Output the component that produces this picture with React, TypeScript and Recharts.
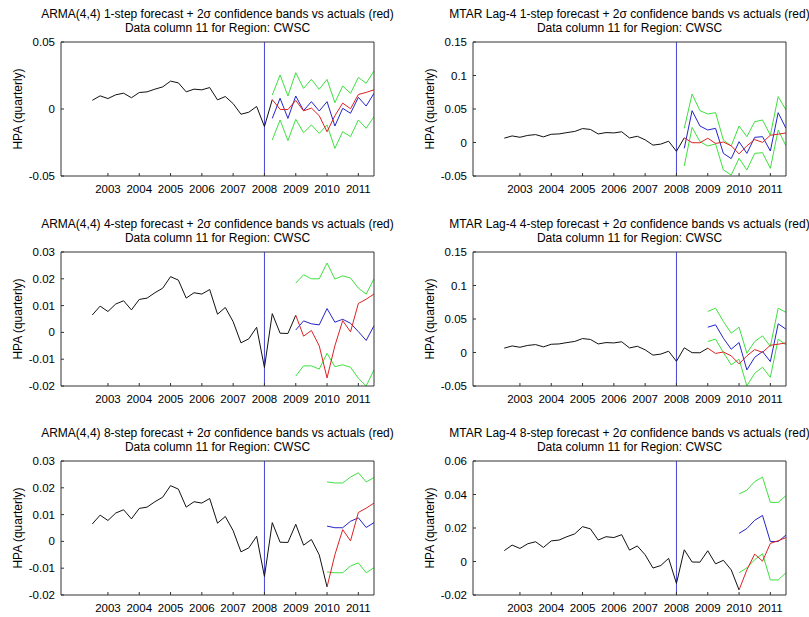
import { LineChart, Line, XAxis, YAxis, ReferenceLine } from "recharts";

const quarters = [
  2002.5, 2002.75, 2003, 2003.25, 2003.5, 2003.75, 2004, 2004.25, 2004.5, 2004.75,
  2005, 2005.25, 2005.5, 2005.75, 2006, 2006.25, 2006.5, 2006.75, 2007, 2007.25,
  2007.5, 2007.75, 2008, 2008.25, 2008.5, 2008.75, 2009, 2009.25, 2009.5, 2009.75,
  2010, 2010.25, 2010.5, 2010.75, 2011, 2011.25, 2011.5,
];

// actual HPA, quarterly
const actual = [
  0.0065, 0.0098, 0.0078, 0.0106, 0.0118, 0.0084, 0.0123, 0.0128, 0.0148, 0.0165,
  0.0208, 0.0195, 0.0128, 0.0148, 0.0143, 0.016, 0.0068, 0.0093, 0.004, -0.0039,
  -0.0024, 0.0019, -0.0131, 0.007, -0.0003, -0.0004, 0.0064, -0.0014, 0.0007, -0.005,
  -0.017, -0.005, 0.0044, 0.0002, 0.0108, 0.0124, 0.0143,
];

const yearTicks = [2003, 2004, 2005, 2006, 2007, 2008, 2009, 2010, 2011];

const ticksArma1 = [-0.05, 0, 0.05];
const ticksMtar = [-0.05, 0, 0.05, 0.1, 0.15];
const ticksArma48 = [-0.02, -0.01, 0, 0.01, 0.02, 0.03];
const ticksMtar8 = [-0.02, 0, 0.02, 0.04, 0.06];

const arma1Fc = [-0.007, 0.008, -0.007, 0.0097, -0.0012, 0.0055, -0.0015, 0.0055, -0.0127, 0.0005, -0.0032, 0.0087, 0.0022, 0.0117];
const arma1Up = [0.0104, 0.0254, 0.0097, 0.0271, 0.0154, 0.0221, 0.0147, 0.0221, 0.0047, 0.0172, 0.0117, 0.0236, 0.0192, 0.0284];
const arma1Lo = [-0.0231, -0.0082, -0.0236, -0.0077, -0.0177, -0.0119, -0.0182, -0.0119, -0.0294, -0.0169, -0.0206, -0.0082, -0.0144, -0.0057];

const mtar1Fc = [-0.0087, 0.0475, 0.0246, 0.0187, 0.0211, -0.0162, -0.024, 0.0012, -0.0162, 0.0077, 0.0087, -0.0127, 0.0445, 0.0211];
const mtar1Up = [0.0211, 0.0724, 0.0475, 0.0425, 0.0445, 0.0037, -0.0052, 0.0246, 0.0087, 0.0311, 0.0336, 0.011, 0.0686, 0.0485];
const mtar1Lo = [-0.035, 0.0226, 0.0012, -0.0052, -0.0022, -0.041, -0.0485, -0.0236, -0.041, -0.0162, -0.0152, -0.0386, 0.0187, -0.0052];

const arma4Fc = [0.0009, 0.0043, 0.0032, 0.0028, 0.0089, 0.0038, 0.0049, 0.0034, 0.0003, -0.003, 0.0025];
const arma4Up = [0.0184, 0.0215, 0.02, 0.02, 0.0259, 0.0199, 0.0211, 0.0203, 0.0165, 0.0143, 0.02];
const arma4Lo = [-0.0163, -0.0125, -0.0125, -0.0137, -0.0078, -0.0128, -0.0121, -0.013, -0.0171, -0.02, -0.014];

const mtar4Fc = [0.0378, 0.0413, 0.0213, 0.0049, 0.0149, -0.026, -0.0072, 0.0014, -0.0136, 0.0428, 0.0348];
const mtar4Up = [0.0613, 0.0662, 0.0463, 0.0288, 0.0378, -0.0011, 0.0164, 0.0248, 0.0089, 0.0662, 0.0598];
const mtar4Lo = [0.0164, 0.0199, -0.0001, -0.0185, -0.01, -0.0499, -0.031, -0.022, -0.037, 0.0199, 0.0114];

const arma8Fc = [0.0057, 0.0051, 0.0051, 0.0075, 0.0088, 0.0052, 0.007];
const arma8Up = [0.0222, 0.0218, 0.0218, 0.024, 0.0256, 0.0222, 0.0238];
const arma8Lo = [-0.0114, -0.0117, -0.0117, -0.0092, -0.008, -0.0117, -0.0098];

const mtar8Fc = [0.0168, 0.0197, 0.0246, 0.0275, 0.0119, 0.0119, 0.0158];
const mtar8Up = [0.0403, 0.0426, 0.0477, 0.0504, 0.0353, 0.0353, 0.0393];
const mtar8Lo = [-0.0067, -0.0038, 0.0011, 0.0046, -0.011, -0.011, -0.0067];

const FONT = '"Liberation Sans", Arial, Helvetica, sans-serif';
const PW = 313;
const PH = 134;
const FRAME = "#333";
const VLINE = "#4545d6";

const panels = [
  { title: "ARMA(4,4) 1-step forecast + 2σ confidence bands vs actuals (red)", start: 2008.25, fc: arma1Fc, up: arma1Up, lo: arma1Lo, domain: [-0.05, 0.05], ticks: ticksArma1, left: 61, top: 42 },
  { title: "MTAR Lag-4 1-step forecast + 2σ confidence bands vs actuals (red)", start: 2008.25, fc: mtar1Fc, up: mtar1Up, lo: mtar1Lo, domain: [-0.05, 0.15], ticks: ticksMtar, left: 473, top: 42 },
  { title: "ARMA(4,4) 4-step forecast + 2σ confidence bands vs actuals (red)", start: 2009, fc: arma4Fc, up: arma4Up, lo: arma4Lo, domain: [-0.02, 0.03], ticks: ticksArma48, left: 61, top: 252 },
  { title: "MTAR Lag-4 4-step forecast + 2σ confidence bands vs actuals (red)", start: 2009, fc: mtar4Fc, up: mtar4Up, lo: mtar4Lo, domain: [-0.05, 0.15], ticks: ticksMtar, left: 473, top: 252 },
  { title: "ARMA(4,4) 8-step forecast + 2σ confidence bands vs actuals (red)", start: 2010, fc: arma8Fc, up: arma8Up, lo: arma8Lo, domain: [-0.02, 0.03], ticks: ticksArma48, left: 61, top: 461 },
  { title: "MTAR Lag-4 8-step forecast + 2σ confidence bands vs actuals (red)", start: 2010, fc: mtar8Fc, up: mtar8Up, lo: mtar8Lo, domain: [-0.02, 0.06], ticks: ticksMtar8, left: 473, top: 461 },
];

const fmt = (v: number) => String(Number(v.toFixed(4)));

function buildRows(start: number, fc: number[], up: number[], lo: number[]) {
  const s = quarters.indexOf(start);
  return quarters.map((t, i) => ({
    t,
    hist: i <= s ? actual[i] : null,
    act: i >= s ? actual[i] : null,
    fc: i >= s ? fc[i - s] : null,
    up: i >= s ? up[i - s] : null,
    lo: i >= s ? lo[i - s] : null,
  }));
}

function Panel({ p }: { p: any }) {
  const rows = buildRows(p.start, p.fc, p.up, p.lo);
  const tickStyle = { fill: "#000", fontSize: 11.5, fontFamily: FONT };
  return (
    <>
      <div
        style={{
          position: "absolute",
          left: p.left + PW / 2 - 260,
          top: p.top - 35,
          width: 520,
          textAlign: "center",
          fontFamily: FONT,
          fontSize: 12,
          lineHeight: "14px",
          whiteSpace: "nowrap",
          color: "#000",
        }}
      >
        <div>{p.title}</div>
        <div>Data column 11 for Region: CWSC</div>
      </div>
      <div
        style={{
          position: "absolute",
          left: p.left - 43,
          top: p.top + PH / 2,
          transform: "translate(-50%, -50%) rotate(-90deg)",
          fontFamily: FONT,
          fontSize: 12,
          whiteSpace: "nowrap",
          color: "#000",
        }}
      >
        HPA (quarterly)
      </div>
      <div style={{ position: "absolute", left: p.left - 60, top: p.top - 5 }}>
        <LineChart width={60 + PW + 5} height={5 + PH + 30} data={rows} margin={{ top: 5, right: 5, bottom: 0, left: 0 }}>
          <XAxis dataKey="t" type="number" domain={[2001.5, 2011.5]} ticks={yearTicks} allowDataOverflow interval={0}
            tickSize={-3} tickMargin={12} height={30} stroke={FRAME} tick={tickStyle} />
          <XAxis xAxisId="top" orientation="top" mirror dataKey="t" type="number" domain={[2001.5, 2011.5]} ticks={yearTicks}
            allowDataOverflow interval={0} tick={false} tickSize={3} stroke={FRAME} />
          <YAxis type="number" domain={p.domain} ticks={p.ticks} allowDataOverflow interval={0} width={60}
            tickSize={-3} tickMargin={9} tickFormatter={fmt} stroke={FRAME} tick={tickStyle} />
          <YAxis yAxisId="right" orientation="right" mirror type="number" domain={p.domain} ticks={p.ticks}
            allowDataOverflow interval={0} tick={false} tickSize={3} stroke={FRAME} />
          <ReferenceLine x={2008} stroke={VLINE} strokeWidth={1} />
          <Line dataKey="hist" stroke="#111" strokeWidth={1} dot={false} isAnimationActive={false} />
          <Line dataKey="up" stroke="#3ee03e" strokeWidth={1} dot={false} isAnimationActive={false} />
          <Line dataKey="lo" stroke="#3ee03e" strokeWidth={1} dot={false} isAnimationActive={false} />
          <Line dataKey="fc" stroke="#2424c8" strokeWidth={1} dot={false} isAnimationActive={false} />
          <Line dataKey="act" stroke="#dd2222" strokeWidth={1} dot={false} isAnimationActive={false} />
        </LineChart>
      </div>
    </>
  );
}

export default function App() {
  return (
    <div style={{ position: "absolute", left: 0, top: 0, width: 809, height: 617, background: "#fff" }}>
      {panels.map((p, i) => (
        <Panel key={i} p={p} />
      ))}
    </div>
  );
}
